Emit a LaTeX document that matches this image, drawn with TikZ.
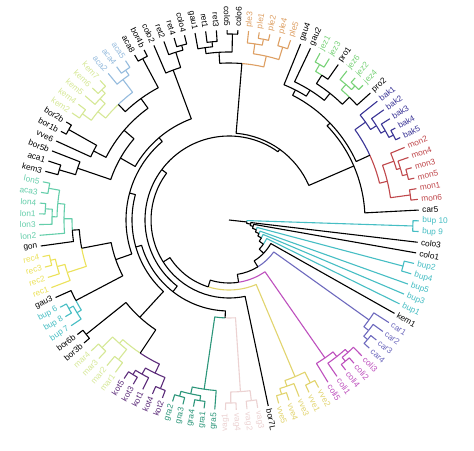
\documentclass[tikz,border=0pt]{standalone}
\usepackage{fontspec}
\setmainfont{Liberation Sans}
\definecolor{monc}{RGB}{192,72,76}
\definecolor{bakc}{RGB}{58,52,150}
\definecolor{jezc}{RGB}{120,210,120}
\definecolor{plec}{RGB}{222,160,100}
\definecolor{acac}{RGB}{150,188,222}
\definecolor{kemc}{RGB}{214,232,150}
\definecolor{lonc}{RGB}{100,206,170}
\definecolor{recc}{RGB}{236,226,90}
\definecolor{bupc}{RGB}{70,190,196}
\definecolor{marc}{RGB}{214,232,150}
\definecolor{kotc}{RGB}{92,44,122}
\definecolor{grac}{RGB}{44,150,122}
\definecolor{vagc}{RGB}{236,210,210}
\definecolor{vvec}{RGB}{226,212,110}
\definecolor{colic}{RGB}{190,80,190}
\definecolor{carc}{RGB}{110,106,190}
\tikzset{
  tree/.style={line width=1.1pt,line join=round},
  lab/.style={font=\fontsize{8.3}{9}\selectfont,inner sep=0.8pt}
}
\newcommand\Lf[4]{%
  \pgfmathsetmacro\la{3+(#2-1)*3.243243}%
  \expandafter\xdef\csname A@#1\endcsname{\la}%
  \expandafter\xdef\csname R@#1\endcsname{190}%
  \expandafter\xdef\csname C@#1\endcsname{#3}%
  \pgfmathsetmacro\lr{\la-180}%
  \ifdim\la pt>90pt\relax
    \ifdim\la pt<270pt\relax
      \node[lab,text=#3,rotate=\lr,anchor=east] (#1) at (\la:192.5pt) {#4};%
    \else
      \node[lab,text=#3,rotate=\la,anchor=west] (#1) at (\la:192.5pt) {#4};%
    \fi
  \else
    \node[lab,text=#3,rotate=\la,anchor=west] (#1) at (\la:192.5pt) {#4};%
  \fi
}
\newcommand\Jn[5]{%
  \edef\jaA{\csname A@#2\endcsname}\edef\jaB{\csname A@#3\endcsname}%
  \edef\jrA{\csname R@#2\endcsname}\edef\jrB{\csname R@#3\endcsname}%
  \edef\jcA{\csname C@#2\endcsname}\edef\jcB{\csname C@#3\endcsname}%
  \pgfmathsetmacro\jam{(\jaA+\jaB)/2}%
  \draw[tree,color=\jcA] (\jaA:\jrA pt) -- (\jaA:#4pt) arc[start angle=\jaA,end angle=\jam,radius=#4pt];%
  \draw[tree,color=\jcB] (\jaB:\jrB pt) -- (\jaB:#4pt) arc[start angle=\jaB,end angle=\jam,radius=#4pt];%
  \expandafter\xdef\csname A@#1\endcsname{\jam}%
  \expandafter\xdef\csname R@#1\endcsname{#4}%
  \expandafter\xdef\csname C@#1\endcsname{#5}%
}
\begin{document}
\begin{tikzpicture}
\useasboundingbox[fill=white] (-229pt,-230pt) rectangle (245pt,220pt);
% leaves
\Lf{car5}{1}{black}{car5}
\Lf{mon6}{2}{monc}{mon6}
\Lf{mon1}{3}{monc}{mon1}
\Lf{mon5}{4}{monc}{mon5}
\Lf{mon3}{5}{monc}{mon3}
\Lf{mon4}{6}{monc}{mon4}
\Lf{mon2}{7}{monc}{mon2}
\Lf{bak5}{8}{bakc}{bak5}
\Lf{bak4}{9}{bakc}{bak4}
\Lf{bak3}{10}{bakc}{bak3}
\Lf{bak2}{11}{bakc}{bak2}
\Lf{bak1}{12}{bakc}{bak1}
\Lf{pro2}{13}{black}{pro2}
\Lf{jez4}{14}{jezc}{jez4}
\Lf{jez2}{15}{jezc}{jez2}
\Lf{jez6}{16}{jezc}{jez6}
\Lf{pro1}{17}{black}{pro1}
\Lf{jez3}{18}{jezc}{jez3}
\Lf{jez1}{19}{jezc}{jez1}
\Lf{gau2}{20}{black}{gau2}
\Lf{gau4}{21}{black}{gau4}
\Lf{ple5}{22}{plec}{ple5}
\Lf{ple4}{23}{plec}{ple4}
\Lf{ple2}{24}{plec}{ple2}
\Lf{ple1}{25}{plec}{ple1}
\Lf{ple3}{26}{plec}{ple3}
\Lf{colo6}{27}{black}{colo6}
\Lf{colo5}{28}{black}{colo5}
\Lf{ret3}{29}{black}{ret3}
\Lf{ret1}{30}{black}{ret1}
\Lf{gau1}{31}{black}{gau1}
\Lf{colo4}{32}{black}{colo4}
\Lf{ret4}{33}{black}{ret4}
\Lf{ret2}{34}{black}{ret2}
\Lf{colo2}{35}{black}{colo2}
\Lf{bor4b}{36}{black}{bor4b}
\Lf{aca8}{37}{black}{aca8}
\Lf{aca5}{38}{acac}{aca5}
\Lf{aca4}{39}{acac}{aca4}
\Lf{aca2}{40}{acac}{aca2}
\Lf{gA}{41}{kemc}{kem7}
\Lf{gB}{42}{kemc}{kem6}
\Lf{gC}{43}{kemc}{kem5}
\Lf{gD}{44}{kemc}{kem4}
\Lf{gE}{45}{kemc}{kem2}
\Lf{bor2b}{46}{black}{bor2b}
\Lf{bor1b}{47}{black}{bor1b}
\Lf{vve6}{48}{black}{vve6}
\Lf{bor5b}{49}{black}{bor5b}
\Lf{aca1}{50}{black}{aca1}
\Lf{kem3}{51}{black}{kem3}
\Lf{lon5}{52}{lonc}{lon5}
\Lf{aca3}{53}{lonc}{aca3}
\Lf{lon4}{54}{lonc}{lon4}
\Lf{lon1}{55}{lonc}{lon1}
\Lf{lon3}{56}{lonc}{lon3}
\Lf{lon2}{57}{lonc}{lon2}
\Lf{gon}{58}{black}{gon}
\Lf{rec4}{59}{recc}{rec4}
\Lf{rec3}{60}{recc}{rec3}
\Lf{rec2}{61}{recc}{rec2}
\Lf{rec1}{62}{recc}{rec1}
\Lf{gau3}{63}{black}{gau3}
\Lf{bup6}{64}{bupc}{bup 6}
\Lf{bup8}{65}{bupc}{bup 8}
\Lf{bup7}{66}{bupc}{bup 7}
\Lf{bor6b}{67}{black}{bor6b}
\Lf{bor3b}{68}{black}{bor3b}
\Lf{mar4}{69}{marc}{mar4}
\Lf{mar3}{70}{marc}{mar3}
\Lf{mar2}{71}{marc}{mar2}
\Lf{mar1}{72}{marc}{mar1}
\Lf{kot5}{73}{kotc}{kot5}
\Lf{kot3}{74}{kotc}{kot3}
\Lf{kot1}{75}{kotc}{kot1}
\Lf{kot4}{76}{kotc}{kot4}
\Lf{kot2}{77}{kotc}{kot2}
\Lf{gra2}{78}{grac}{gra2}
\Lf{gra3}{79}{grac}{gra3}
\Lf{gra4}{80}{grac}{gra4}
\Lf{gra1}{81}{grac}{gra1}
\Lf{gra5}{82}{grac}{gra5}
\Lf{vag1}{83}{vagc}{vag1}
\Lf{vag4}{84}{vagc}{vag4}
\Lf{vag2}{85}{vagc}{vag2}
\Lf{vag3}{86}{vagc}{vag3}
\Lf{bor7L}{87}{black}{bor7L}
\Lf{vve5}{88}{vvec}{vve5}
\Lf{vve4}{89}{vvec}{vve4}
\Lf{vve3}{90}{vvec}{vve3}
\Lf{vve1}{91}{vvec}{vve1}
\Lf{vve2}{92}{vvec}{vve2}
\Lf{coli5}{93}{colic}{coli5}
\Lf{coli1}{94}{colic}{coli1}
\Lf{coli4}{95}{colic}{coli4}
\Lf{coli2}{96}{colic}{coli2}
\Lf{coli3}{97}{colic}{coli3}
\Lf{car4}{98}{carc}{car4}
\Lf{car3}{99}{carc}{car3}
\Lf{car2}{100}{carc}{car2}
\Lf{car1}{101}{carc}{car1}
\Lf{kem1}{102}{black}{kem1}
\Lf{bup1}{103}{bupc}{bup1}
\Lf{bup3}{104}{bupc}{bup3}
\Lf{bup5}{105}{bupc}{bup5}
\Lf{bup4}{106}{bupc}{bup4}
\Lf{bup2}{107}{bupc}{bup2}
\Lf{colo1}{108}{black}{colo1}
\Lf{colo3}{109}{black}{colo3}
\Lf{bup9}{110}{bupc}{bup 9}
\Lf{bup10}{111}{bupc}{bup 10}
% group A
\Jn{m16}{mon6}{mon1}{183}{monc}
\Jn{m53}{mon5}{mon3}{184}{monc}
\Jn{m453}{m53}{mon4}{179}{monc}
\Jn{m2453}{m453}{mon2}{175}{monc}
\Jn{MON}{m16}{m2453}{163}{monc}
\Jn{b45}{bak5}{bak4}{185}{bakc}
\Jn{b345}{b45}{bak3}{180}{bakc}
\Jn{b2345}{b345}{bak2}{175}{bakc}
\Jn{BAK}{b2345}{bak1}{168}{bakc}
\Jn{MB}{MON}{BAK}{155}{black}
\Jn{j42}{jez4}{jez2}{184}{jezc}
\Jn{j426}{j42}{jez6}{179}{jezc}
\Jn{PJ}{pro2}{j426}{172}{black}
\Jn{j31}{jez3}{jez1}{180}{jezc}
\Jn{pj1}{pro1}{j31}{172}{black}
\Jn{JZ}{PJ}{pj1}{162}{black}
\Jn{JG2}{JZ}{gau2}{153}{black}
\Jn{JG4}{JG2}{gau4}{146}{black}
\Jn{REST}{MB}{JG4}{140}{black}
\Jn{UP}{car5}{REST}{136}{black}
% group B
\Jn{p54}{ple5}{ple4}{181}{plec}
\Jn{p21}{ple2}{ple1}{184}{plec}
\Jn{p213}{p21}{ple3}{178}{plec}
\Jn{PLE}{p54}{p213}{168}{plec}
\Jn{c65}{colo6}{colo5}{186}{black}
\Jn{r31}{ret3}{ret1}{179}{black}
\Jn{rg}{r31}{gau1}{174}{black}
\Jn{CR}{c65}{rg}{168}{black}
\Jn{PC}{PLE}{CR}{157}{black}
\Jn{X1}{UP}{PC}{87}{black}
\Jn{c4r4}{colo4}{ret4}{181}{black}
\Jn{cr2}{c4r4}{ret2}{176}{black}
\Jn{CC2}{cr2}{colo2}{160}{black}
% group C
\Jn{ba}{bor4b}{aca8}{183}{black}
\Jn{a54}{aca5}{aca4}{182}{acac}
\Jn{a542}{a54}{aca2}{176}{acac}
\Jn{g12}{gA}{gB}{182}{kemc}
\Jn{g123}{g12}{gC}{177}{kemc}
\Jn{g45}{gD}{gE}{181}{kemc}
\Jn{GG}{g123}{g45}{170}{kemc}
\Jn{ACG}{a542}{GG}{160}{black}
\Jn{BAACG}{ba}{ACG}{150}{black}
\Jn{b21}{bor2b}{bor1b}{184}{black}
\Jn{V}{b21}{vve6}{152}{black}
\Jn{ak}{aca1}{kem3}{177}{black}
\Jn{BK}{bor5b}{ak}{160}{black}
\Jn{CG1}{BAACG}{V}{138}{black}
\Jn{CG}{CG1}{BK}{125}{black}
\Jn{X5}{CC2}{CG}{108}{black}
% group D
\Jn{la}{lon5}{aca3}{183}{lonc}
\Jn{l41}{lon4}{lon1}{184}{lonc}
\Jn{l413}{l41}{lon3}{177}{lonc}
\Jn{l2}{la}{l413}{172}{lonc}
\Jn{LON}{l2}{lon2}{165}{lonc}
\Jn{LG}{LON}{gon}{157}{black}
\Jn{r43}{rec4}{rec3}{183}{recc}
\Jn{r432}{r43}{rec2}{178}{recc}
\Jn{REC}{r432}{rec1}{170}{recc}
\Jn{LGR}{LG}{REC}{150}{black}
\Jn{b68}{bup6}{bup8}{183}{bupc}
\Jn{b687}{b68}{bup7}{178}{bupc}
\Jn{GB}{gau3}{b687}{173}{black}
\Jn{D2}{LGR}{GB}{120}{black}
\Jn{X4}{X5}{D2}{103}{black}
% group E
\Jn{b63}{bor6b}{bor3b}{183}{black}
\Jn{m43}{mar4}{mar3}{180}{marc}
\Jn{m21}{mar2}{mar1}{178}{marc}
\Jn{MAR}{m43}{m21}{165}{marc}
\Jn{k53}{kot5}{kot3}{182}{kotc}
\Jn{k531}{k53}{kot1}{177}{kotc}
\Jn{k42}{kot4}{kot2}{182}{kotc}
\Jn{KOT}{k531}{k42}{170}{kotc}
\Jn{MK}{MAR}{KOT}{160}{black}
\Jn{BB}{b63}{MK}{132}{black}
\Jn{X3}{X4}{BB}{97}{black}
% group F
\Jn{g23}{gra2}{gra3}{183}{grac}
\Jn{g41}{gra4}{gra1}{183}{grac}
\Jn{g2341}{g23}{g41}{178}{grac}
\Jn{GRA}{g2341}{gra5}{171}{grac}
\Jn{v14}{vag1}{vag4}{183}{vagc}
\Jn{v23}{vag2}{vag3}{182}{vagc}
\Jn{VAG}{v14}{v23}{172}{vagc}
\Jn{GV}{GRA}{VAG}{98}{black}
\Jn{X2}{X3}{GV}{91}{black}
\Jn{BIG}{X1}{X2}{84}{black}
\Jn{N12}{BIG}{bor7L}{78}{black}
% right-hand ladder
\Jn{v54}{vve5}{vve4}{182}{vvec}
\Jn{v543}{v54}{vve3}{176}{vvec}
\Jn{v12}{vve1}{vve2}{182}{vvec}
\Jn{VVE}{v543}{v12}{170}{vvec}
\Jn{N11}{N12}{VVE}{70}{black}
\Jn{c42}{coli4}{coli2}{183}{colic}
\Jn{c423}{c42}{coli3}{178}{colic}
\Jn{c1423}{coli1}{c423}{174}{colic}
\Jn{COLI}{coli5}{c1423}{168}{colic}
\Jn{N10}{N11}{COLI}{63}{black}
\Jn{c43}{car4}{car3}{183}{carc}
\Jn{c432}{c43}{car2}{178}{carc}
\Jn{CAR}{c432}{car1}{172}{carc}
\Jn{N9}{N10}{CAR}{55}{black}
\Jn{N8}{N9}{kem1}{48}{black}
\Jn{N7}{N8}{bup1}{42}{black}
\Jn{N6}{N7}{bup3}{37}{black}
\Jn{N5}{N6}{bup5}{33}{black}
\Jn{b42}{bup4}{bup2}{180}{bupc}
\Jn{N4}{N5}{b42}{29}{black}
\Jn{N3}{N4}{colo1}{25}{black}
\Jn{N2}{N3}{colo3}{22}{black}
\Jn{b910}{bup9}{bup10}{184}{bupc}
\Jn{N1}{N2}{b910}{18}{black}
\coordinate (root) at (0,0);
\draw[tree] (root) -- (\csname A@N1\endcsname:18pt);
\end{tikzpicture}
\end{document}
